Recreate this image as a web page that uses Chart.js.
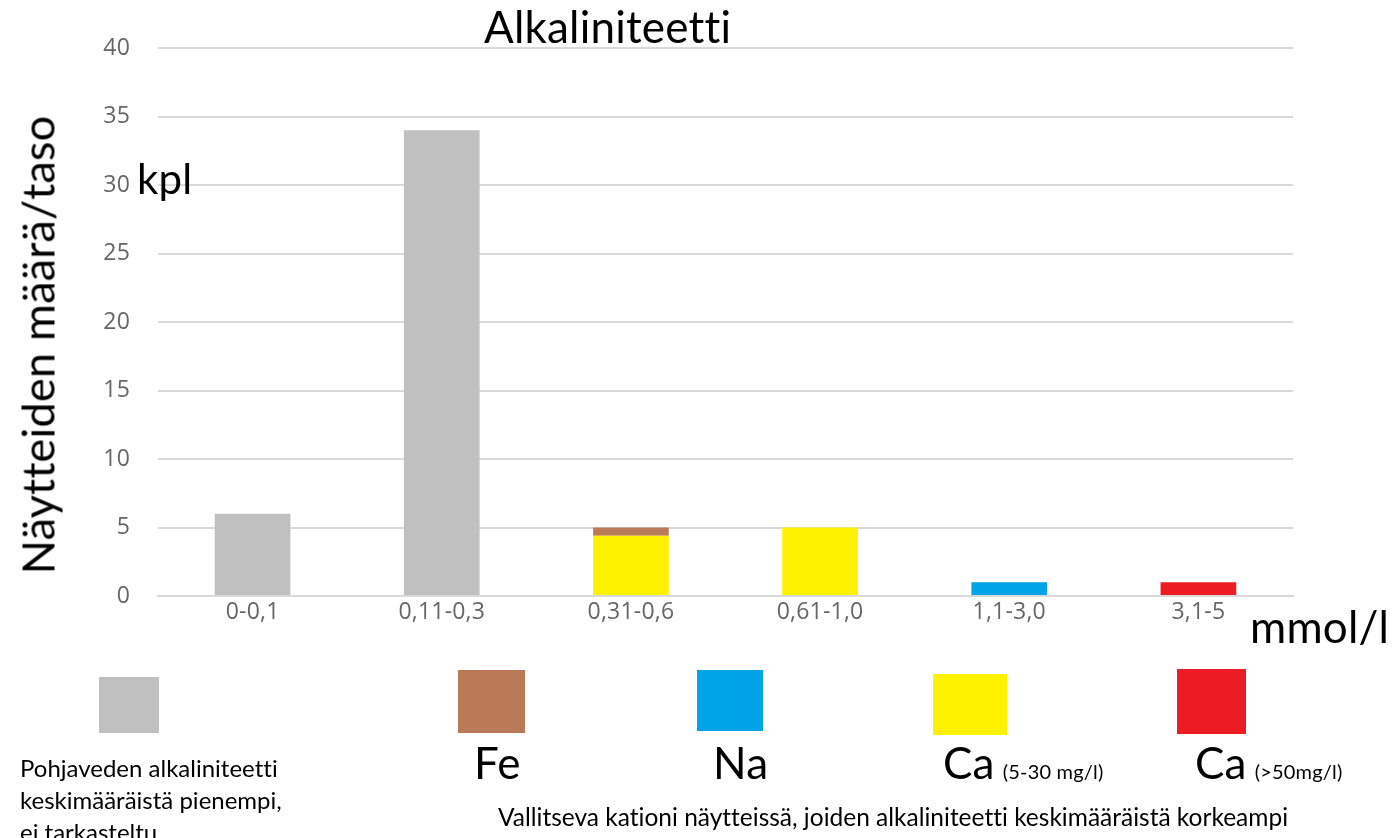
<!DOCTYPE html>
<html>
<head>
<meta charset="utf-8">
<script src="https://cdn.jsdelivr.net/npm/chart.js@4/dist/chart.umd.min.js"></script>
<style>
  html, body { margin: 0; padding: 0; background: #fff; }
  #wrap { position: relative; width: 1393px; height: 838px; overflow: hidden; font-family: Lato, "Open Sans", sans-serif; color: #000; font-variant-ligatures: none; font-feature-settings: "liga" 0, "dlig" 0; letter-spacing: 0.2px; }
  #wrap canvas { position: absolute; left: 0; top: 0; }
  .t { position: absolute; white-space: nowrap; line-height: 1; }
  .box { position: absolute; }
  .sm { font-size: 20px; margin-left: 8px; }
</style>
</head>
<body>
<div id="wrap">
  <canvas id="c" width="1393" height="838"></canvas>
  <div class="t" style="left:484px; top:4px; font-size:44px;">Alkaliniteetti</div>
  <div class="t" style="left:38px; top:345px; font-size:45px; transform:translate(-50%,-50%) rotate(-90deg);">Näytteiden määrä/taso</div>
  <div class="t" style="left:137px; top:157px; font-size:42px;">kpl</div>
  <div class="t" style="left:1250px; top:604px; font-size:44px;">mmol/l</div>

  <div class="box" style="left:99px; top:677px; width:60px; height:56px; background:#c0c0c0;"></div>
  <div class="box" style="left:458px; top:670px; width:67px; height:63px; background:#b97a57;"></div>
  <div class="box" style="left:697px; top:670px; width:66px; height:61px; background:#00a2e8;"></div>
  <div class="box" style="left:933px; top:674px; width:74px; height:61px; background:#fff200;"></div>
  <div class="box" style="left:1177px; top:669px; width:69px; height:65px; background:#ed1c24;"></div>

  <div class="t" style="left:474px; top:740px; font-size:44px;">Fe</div>
  <div class="t" style="left:713px; top:740px; font-size:44px;">Na</div>
  <div class="t" style="left:943px; top:740px; font-size:44px;">Ca<span class="sm">(5-30 mg/l)</span></div>
  <div class="t" style="left:1195px; top:740px; font-size:44px;">Ca<span class="sm">(&gt;50mg/l)</span></div>

  <div class="t" style="left:20px; top:752px; font-size:24px; line-height:32px; letter-spacing:0;">Pohjaveden alkaliniteetti<br>keskimääräistä pienempi,<br>ei tarkasteltu</div>
  <div class="t" style="left:498px; top:805px; font-size:24.5px; letter-spacing:0;">Vallitseva kationi näytteissä, joiden alkaliniteetti keskimääräistä korkeampi</div>
</div>
<script>
// luokat ja arvot (kpl)
const categories = ["0-0,1", "0,11-0,3", "0,31-0,6", "0,61-1,0", "1,1-3,0", "3,1-5"];
const grayVals  = [6, 34, null, null, null, null];
const caLowVals = [null, null, 4.4, 5, null, null];
const feVals    = [null, null, 0.6, null, null, null];
const naVals    = [null, null, null, null, 1, null];
const caHighVals = [null, null, null, null, null, 1];
const yTicks = [0, 5, 10, 15, 20, 25, 30, 35, 40];

const ds = (data, color) => ({
  data,
  backgroundColor: color,
  borderWidth: 0,
  barPercentage: 0.4,
  categoryPercentage: 1,
});

const tickFont = { family: "'Open Sans', sans-serif", size: 23 };

new Chart(document.getElementById("c"), {
  type: "bar",
  data: {
    labels: categories,
    datasets: [
      ds(grayVals, "#c0c0c0"),
      ds(caLowVals, "#fff200"),
      ds(feVals, "#b97a57"),
      ds(naVals, "#00a2e8"),
      ds(caHighVals, "#ed1c24"),
    ],
  },
  options: {
    responsive: false,
    animation: false,
    layout: { padding: { left: 0, top: 48, right: 100, bottom: 192 } },
    plugins: { legend: { display: false }, tooltip: { enabled: false } },
    scales: {
      x: {
        stacked: true,
        grid: { display: false, drawTicks: false },
        border: { display: true, color: "#d9d9d9", width: 2 },
        ticks: { color: "#666666", font: tickFont, padding: 3 },
        afterFit: (s) => { s.height = 50; },
      },
      y: {
        stacked: true,
        min: 0,
        max: 40,
        afterBuildTicks: (s) => { s.ticks = yTicks.map((v) => ({ value: v })); },
        grid: { color: "#d9d9d9", lineWidth: 2, drawTicks: false },
        border: { display: false },
        ticks: { color: "#666666", font: tickFont, padding: 28 },
        afterFit: (s) => { s.width = 158; },
      },
    },
  },
});
</script>
</body>
</html>
